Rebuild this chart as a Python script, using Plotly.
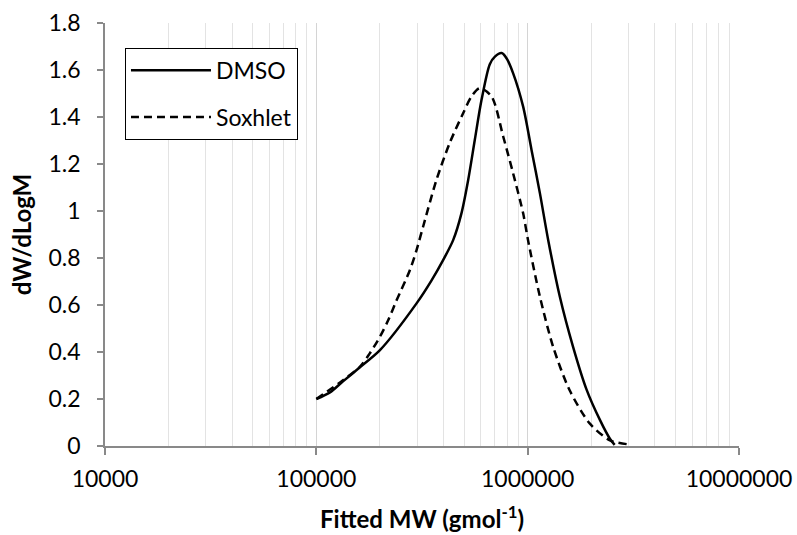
import plotly.graph_objects as go

# DMSO (solid)
dmso_mw = [100000, 116000, 133700, 160700, 200000, 298000, 351000, 398000, 444000, 486000, 523000,
           562000, 605000, 662000, 700000, 753000, 794000, 853000, 952000, 1043000, 1143000,
           1251000, 1420000, 1640000, 1900000, 2200000, 2450000, 2580000]
dmso_w = [0.20, 0.228, 0.275, 0.335, 0.408, 0.607, 0.705, 0.791, 0.876, 0.990, 1.132,
          1.302, 1.473, 1.625, 1.657, 1.672, 1.650, 1.587, 1.444, 1.260, 1.075,
          0.876, 0.635, 0.422, 0.240, 0.110, 0.031, 0.005]

# Soxhlet (dashed)
sox_mw = [100000, 133700, 160700, 179000, 200000, 219000, 240000, 277000, 298000, 320000,
          371000, 428000, 495000, 542000, 594000, 675000, 766000, 853000, 952000, 1004000,
          1143000, 1320000, 1580000, 1970000, 2450000, 2940000]
sox_w = [0.20, 0.28, 0.337, 0.394, 0.465, 0.536, 0.621, 0.748, 0.834, 0.933,
         1.135, 1.29, 1.416, 1.487, 1.523, 1.487, 1.317, 1.161, 0.990, 0.876,
         0.635, 0.422, 0.237, 0.095, 0.024, 0.008]

x_tickvals = [10000, 100000, 1000000, 10000000]
x_ticktext = ["10000", "100000", "1000000", "10000000"]

font_family = "Lato, 'Open Sans', sans-serif"
axis_grey = "#898989"

fig = go.Figure()
fig.add_trace(go.Scatter(x=dmso_mw, y=dmso_w, mode="lines", name="DMSO", legendgroup="a",
                         line=dict(color="black", width=2.5, shape="spline", smoothing=0.8)))
fig.add_trace(go.Scatter(x=sox_mw, y=sox_w, mode="lines", name="Soxhlet", legendgroup="b",
                         line=dict(color="black", width=2.5, dash="8px,5px", shape="spline", smoothing=0.8)))

fig.update_layout(
    width=797, height=535,
    margin=dict(l=105, r=58, t=23, b=89),
    paper_bgcolor="white", plot_bgcolor="white",
    font=dict(family=font_family, size=23, color="black"),
    showlegend=True,
    legend=dict(x=0.0315, y=0.9415, xanchor="left", yanchor="top",
                bordercolor="black", borderwidth=1, bgcolor="white",
                font=dict(size=23), itemwidth=80, tracegroupgap=14,
                traceorder="grouped"),
    xaxis=dict(
        type="log", range=[4, 7], automargin=False,
        tickvals=x_tickvals, ticktext=x_ticktext,
        showline=True, linecolor=axis_grey, linewidth=1.5,
        ticks="outside", ticklen=7, tickcolor=axis_grey, tickwidth=1.5,
        ticklabelstandoff=5,
        showgrid=True, gridcolor="#d4d4d4", gridwidth=1,
        minor=dict(dtick="D1", showgrid=True, gridcolor="#e3e3e3", gridwidth=1, ticks=""),
        zeroline=False,
        title=dict(text="<b>Fitted MW (gmol<sup>-1</sup>)</b>", font=dict(size=24), standoff=20),
        tickfont=dict(size=23),
    ),
    yaxis=dict(
        range=[0, 1.8], dtick=0.2, automargin=False,
        showline=True, linecolor=axis_grey, linewidth=1.5,
        ticks="outside", ticklen=6, tickcolor=axis_grey, tickwidth=1.5,
        ticklabelstandoff=12,
        showgrid=False, zeroline=False,
        title=dict(text="<b>dW/dLogM</b>", font=dict(size=24), standoff=10),
        tickfont=dict(size=23),
    ),
)

fig.write_html("out.html")
